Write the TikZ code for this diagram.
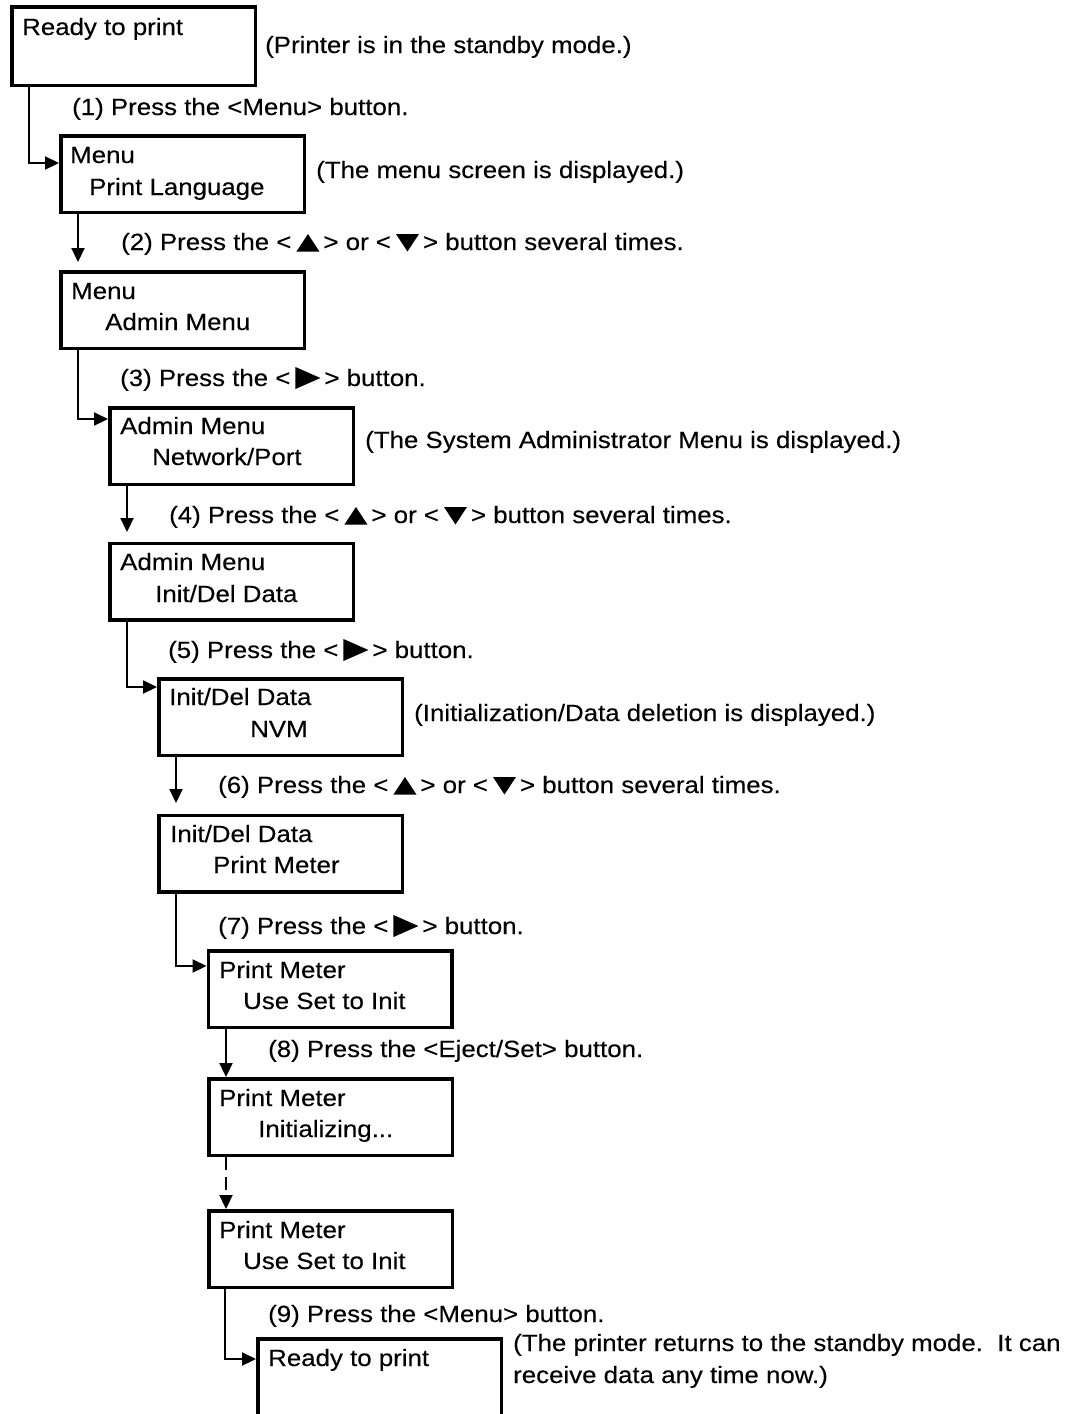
\documentclass[tikz,border=0pt]{standalone}
\usepackage{fontspec}
\setmainfont{Liberation Sans}[FakeStretch=1.1,FakeBold=0.25]
\usetikzlibrary{arrows.meta}
\newcommand{\tup}{\tikz[baseline=0pt,x=1pt,y=1pt]\fill (0,-1.5)--(23,-1.5)--(11.5,16)--cycle;}
\newcommand{\tdn}{\tikz[baseline=0pt,x=1pt,y=1pt]\fill (0,16)--(23,16)--(11.5,-1.5)--cycle;}
\newcommand{\trt}{\tikz[baseline=0pt,x=1pt,y=1pt]\fill (0,-3)--(0,19)--(25,8)--cycle;}
\newcommand{\lt}[1]{<\hspace{5pt}#1\hspace{4pt}>}
\begin{document}
\begin{tikzpicture}[x=1pt,y=-1pt,
  every node/.style={font=\fontsize{23.5}{27}\selectfont},
  box/.style={draw, line width=3.5pt, minimum width=243.5pt, minimum height=76.5pt, inner sep=0pt},
  txt/.style={anchor=base west, inner sep=0pt},
  conn/.style={line width=2.2pt, -{Triangle[length=14pt,width=13pt]}},
]
\useasboundingbox (0,0) rectangle (1092,1414);

% boxes
\node[box, minimum height=78.5pt] (b1) at (133.5,46) {};
\node[box] (b2) at (182.5,174) {};
\node[box] (b3) at (182.5,310) {};
\node[box] (b4) at (231.5,446) {};
\node[box] (b5) at (231.5,581.5) {};
\node[box] (b6) at (280.5,717) {};
\node[box] (b7) at (280.5,853.5) {};
\node[box] (b8) at (330,989) {};
\node[box] (b9) at (330.5,1117) {};
\node[box] (b10) at (330.5,1249) {};
\node[box, minimum height=79pt] (b11) at (379.5,1378.5) {};

% box texts
\node[txt] (t1a) at (22,35) {Ready to print};
\node[txt] (t2a) at (70,163) {Menu};
\node[txt] (t2b) at (89,195) {Print Language};
\node[txt] (t3a) at (71,299) {Menu};
\node[txt] (t3b) at (105,330) {Admin Menu};
\node[txt] (t4a) at (120,434) {Admin Menu};
\node[txt] (t4b) at (152,465) {Network/Port};
\node[txt] (t5a) at (120,570) {Admin Menu};
\node[txt] (t5b) at (155,602) {Init/Del Data};
\node[txt] (t6a) at (169,705) {Init/Del Data};
\node[txt] (t6b) at (250,737) {NVM};
\node[txt] (t7a) at (170,842) {Init/Del Data};
\node[txt] (t7b) at (213,873) {Print Meter};
\node[txt] (t8a) at (219,978) {Print Meter};
\node[txt] (t8b) at (243,1009) {Use Set to Init};
\node[txt] (t9a) at (219,1106) {Print Meter};
\node[txt] (t9b) at (258,1137) {Initializing...};
\node[txt] (t10a) at (219,1238) {Print Meter};
\node[txt] (t10b) at (243,1269) {Use Set to Init};
\node[txt] (t11a) at (268,1366) {Ready to print};

% notes
\node[txt] (n1) at (265,53) {(Printer is in the standby mode.)};
\node[txt] (n2) at (316,178) {(The menu screen is displayed.)};
\node[txt] (n4) at (365,448) {(The System Administrator Menu is displayed.)};
\node[txt] (n6) at (414,721) {(Initialization/Data deletion is displayed.)};
\node[txt] (n11a) at (513,1351) {(The printer returns to the standby mode.\ \ It can};
\node[txt] (n11b) at (513,1383) {receive data any time now.)};

% step labels
\node[txt] (s1) at (72,115) {(1) Press the <Menu> button.};
\node[txt] (s2) at (121,250) {(2) Press the \lt{\tup} or \lt{\tdn} button several times.};
\node[txt] (s3) at (120,386) {(3) Press the \lt{\trt} button.};
\node[txt] (s4) at (169,523) {(4) Press the \lt{\tup} or \lt{\tdn} button several times.};
\node[txt] (s5) at (168,658) {(5) Press the \lt{\trt} button.};
\node[txt] (s6) at (218,793) {(6) Press the \lt{\tup} or \lt{\tdn} button several times.};
\node[txt] (s7) at (218,934) {(7) Press the \lt{\trt} button.};
\node[txt] (s8) at (268,1057) {(8) Press the <Eject/Set> button.};
\node[txt] (s9) at (268,1322) {(9) Press the <Menu> button.};

% connector coordinates
\coordinate (e1) at (29,163);
\coordinate (e3) at (78,419);
\coordinate (e5) at (127,687);
\coordinate (e7) at (176,966);
\coordinate (e9) at (225,1359);
\coordinate (d2) at (78,262);
\coordinate (d4) at (127,532);
\coordinate (d6) at (176,803);
\coordinate (d8) at (226,1077);
\coordinate (d10) at (226,1209);

% connectors
\draw[conn] (b1.south -| e1) |- (b2.west |- e1);
\draw[conn] (b2.south -| d2) -- (d2);
\draw[conn] (b3.south -| e3) |- (b4.west |- e3);
\draw[conn] (b4.south -| d4) -- (d4);
\draw[conn] (b5.south -| e5) |- (b6.west |- e5);
\draw[conn] (b6.south -| d6) -- (d6);
\draw[conn] (b7.south -| e7) |- (b8.west |- e7);
\draw[conn] (b8.south -| d8) -- (b9.north -| d8);
\draw[conn, dash pattern=on 13pt off 7pt] (b9.south -| d10) -- (b10.north -| d10);
\draw[conn] (b10.south -| e9) |- (b11.west |- e9);
\end{tikzpicture}
\end{document}
